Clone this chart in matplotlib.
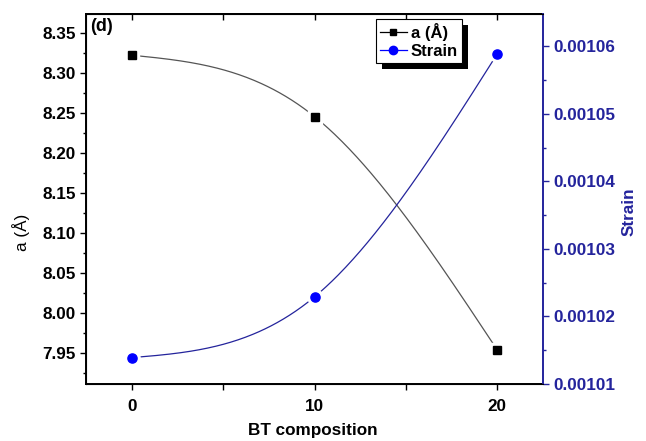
import matplotlib
matplotlib.use('Agg')
import matplotlib.pyplot as plt
import numpy as np
from matplotlib.patches import Rectangle
from matplotlib.ticker import MultipleLocator, FormatStrFormatter, NullFormatter

plt.rcParams.update({'font.family': 'Liberation Sans', 'font.size': 12.3,
                     'font.weight': 'bold'})

bt = [0, 10, 20]
lattice_a = [8.3225, 8.2458, 7.954]
strain = [0.0010139, 0.0010229, 0.0010589]

blue = '#0000ff'
dark_blue = '#24249c'


def smooth(x, y, n=300):
    # natural cubic spline through the points (Origin "Spline" connect)
    x = np.asarray(x, float)
    y = np.asarray(y, float)
    npts = len(x)
    h = np.diff(x)
    A = np.zeros((npts, npts))
    r = np.zeros(npts)
    A[0, 0] = A[-1, -1] = 1
    for k in range(1, npts - 1):
        A[k, k - 1] = h[k - 1]
        A[k, k] = 2 * (h[k - 1] + h[k])
        A[k, k + 1] = h[k]
        r[k] = 6 * ((y[k + 1] - y[k]) / h[k] - (y[k] - y[k - 1]) / h[k - 1])
    M = np.linalg.solve(A, r)
    xs = np.linspace(x[0], x[-1], n)
    i = np.clip(np.searchsorted(x, xs) - 1, 0, npts - 2)
    a = x[i + 1] - xs
    b = xs - x[i]
    hi = h[i]
    ys = (M[i] * a**3 + M[i + 1] * b**3) / (6 * hi) \
        + (y[i] / hi - M[i] * hi / 6) * a + (y[i + 1] / hi - M[i + 1] * hi / 6) * b
    return xs, ys


fig = plt.figure(figsize=(6.46, 4.41), dpi=100)
ax1 = fig.add_axes([0.1331, 0.1293, 0.7075, 0.839])
ax2 = ax1.twinx()

xa, ya = smooth(bt, lattice_a)
xb, yb = smooth(bt, strain)

ax1.plot(xa, ya, color='#555555', lw=0.9, zorder=1)
ax1.plot(bt, lattice_a, 's', color='white', ms=9.5, zorder=2)
ax1.plot(bt, lattice_a, 's', color='black', ms=5.4, zorder=3)
ax2.plot(xb, yb, color=dark_blue, lw=0.9, zorder=1)
ax2.plot(bt, strain, 'o', color='white', ms=11, zorder=2)
ax2.plot(bt, strain, 'o', color=blue, ms=6.6, zorder=3)

ax1.set_xlim(-2.5, 22.5)
ax1.set_ylim(7.9116, 8.374)
ax2.set_ylim(0.00101, 0.0010648)

ax1.xaxis.set_major_locator(MultipleLocator(10))
ax1.xaxis.set_minor_locator(MultipleLocator(5))
ax1.yaxis.set_major_locator(MultipleLocator(0.05))
ax1.yaxis.set_minor_locator(MultipleLocator(0.025))
ax1.yaxis.set_major_formatter(FormatStrFormatter('%.2f'))
ax2.yaxis.set_major_locator(MultipleLocator(0.00001))
ax2.yaxis.set_minor_locator(MultipleLocator(0.000005))
ax2.yaxis.set_major_formatter(FormatStrFormatter('%.5f'))

ax1.tick_params(axis='x', which='both', direction='out', length=4.5, width=1, pad=6)
ax1.tick_params(axis='y', which='major', direction='out', length=4.5, width=1, pad=3)
ax1.tick_params(axis='y', which='minor', direction='out', length=2.5, width=1)
ax2.tick_params(axis='y', which='major', direction='out', length=4.5, width=1,
                colors=dark_blue, labelcolor=dark_blue, pad=3)
ax2.tick_params(axis='y', which='minor', direction='out', length=2.5, width=1,
                colors=dark_blue)

# top axis ticks pointing inward
top = ax1.secondary_xaxis('top')
top.xaxis.set_major_locator(MultipleLocator(5))
top.xaxis.set_major_formatter(NullFormatter())
top.tick_params(direction='in', length=4.5, width=1)
top.spines['top'].set_linewidth(1.4)

for sp in ['left', 'bottom', 'top']:
    ax1.spines[sp].set_linewidth(1.4)
ax2.spines['right'].set_color(dark_blue)
ax2.spines['right'].set_linewidth(1.4)
ax1.spines['right'].set_visible(False)

ax1.set_xlabel('BT composition', fontsize=12.3, fontweight='bold', va='top')
ax1.xaxis.set_label_coords(0.497, -0.105)
ax1.set_ylabel('a (Å)', fontsize=12.3, fontweight='normal')
ax1.yaxis.set_label_coords(-0.122, 0.41)
ax2.set_ylabel('Strain', fontsize=12.3, fontweight='bold', color=dark_blue)
ax2.yaxis.set_label_coords(1.171, 0.465)

ax1.text(0.009, 0.988, '(d)', transform=ax1.transAxes, fontsize=13,
         fontweight='bold', va='top', ha='left')

# legend line + marker handles
h1, = ax2.plot([], [], '-s', color='black', ms=5, lw=0.9)
h2, = ax2.plot([], [], '-o', color=blue, ms=6, lw=0.9)
leg = ax2.legend([h1, h2], ['a (Å)', 'Strain'], loc='upper left',
                 bbox_to_anchor=(376 / 646, 1 - 19 / 441),
                 bbox_transform=fig.transFigure, fancybox=False, shadow=False,
                 framealpha=1, edgecolor='black', fontsize=12,
                 handlelength=1.6, borderpad=0.25, labelspacing=0.15,
                 handletextpad=0.25, borderaxespad=0)
leg.get_frame().set_linewidth(0.8)
leg.set_zorder(10)

# solid black drop shadow like Origin
fig.canvas.draw()
bb = leg.get_frame().get_window_extent()
shadow = Rectangle((bb.x0 + 6, bb.y0 - 6), bb.width, bb.height, transform=None,
                   facecolor='black', edgecolor='none', zorder=9, clip_on=False)
ax2.add_artist(shadow)

fig.savefig('out.png', dpi=100)
